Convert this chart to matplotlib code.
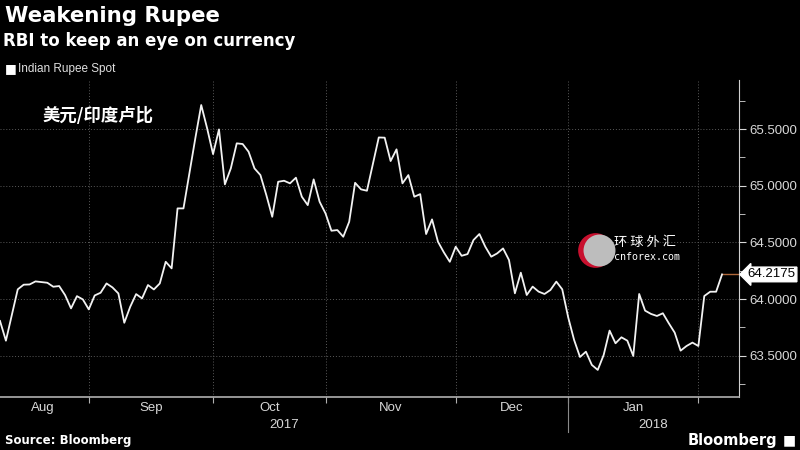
import matplotlib.pyplot as plt
from matplotlib.ticker import FixedLocator, MultipleLocator, FormatStrFormatter

# USD/INR spot, one value per trading day
rupee = [63.807, 63.633, 63.86, 64.086, 64.127, 64.129, 64.156, 64.150, 64.144, 64.109,
         64.115, 64.035, 63.918, 64.026, 63.997, 63.909, 64.032, 64.056, 64.138, 64.103,
         64.050, 63.791, 63.932, 64.044, 64.006, 64.124, 64.085, 64.138, 64.329, 64.271,
         64.800, 64.800, 65.109, 65.418, 65.712, 65.506, 65.279, 65.497, 65.012, 65.153,
         65.374, 65.368, 65.300, 65.153, 65.094, 64.918, 64.726, 65.035, 65.044, 65.021,
         65.071, 64.903, 64.829, 65.056, 64.859, 64.756, 64.603, 64.609, 64.550, 64.682,
         65.026, 64.968, 64.956, 65.191, 65.426, 65.424, 65.218, 65.321, 65.021, 65.094,
         64.903, 64.926, 64.574, 64.703, 64.506, 64.412, 64.329, 64.462, 64.382, 64.397,
         64.521, 64.574, 64.462, 64.374, 64.403, 64.447, 64.345, 64.051, 64.233, 64.036,
         64.110, 64.066, 64.045, 64.080, 64.154, 64.086, 63.84, 63.64, 63.489, 63.536,
         63.419, 63.375, 63.507, 63.722, 63.610, 63.663, 63.633, 63.498, 64.045, 63.898,
         63.869, 63.851, 63.875, 63.787, 63.704, 63.545, 63.586, 63.616, 63.586, 64.027,
         64.065, 64.065, 64.2175]
last_value = 64.2175

# month boundaries (trading day index) and label centres
month_starts = [15, 36, 55, 77, 96, 118]
month_names = ['Aug', 'Sep', 'Oct', 'Nov', 'Dec', 'Jan']
month_mid = [7.3, 25.5, 45.5, 66, 86.5, 107]
years = ['2017', '2018']
year_pos = [48, 110.3]
y_ticks = [63.5, 64.0, 64.5, 65.0, 65.5]

plt.rcParams['font.family'] = ['DejaVu Sans', 'Noto Sans CJK SC']
narrow = 'Liberation Sans'

fig = plt.figure(figsize=(8, 4.5), dpi=100, facecolor='black')
ax = fig.add_axes([0.0, 0.118, 0.924, 0.704], facecolor='black')

days = list(range(len(rupee)))
ax.plot(days, rupee, color='#f2f2f2', lw=1.3, zorder=3)
ax.plot([days[-1], 125], [last_value, last_value], color='#b0683a', lw=1.0,
        clip_on=False, zorder=2)

ax.set_xlim(0, 124.9)
ax.set_ylim(63.137, 65.932)

for s in ['top', 'left']:
    ax.spines[s].set_visible(False)
ax.spines['bottom'].set_color('#b0b0b0')
ax.spines['right'].set_color('#d0d0d0')
ax.spines['bottom'].set_linewidth(1.2)

ax.yaxis.tick_right()
ax.yaxis.set_major_locator(FixedLocator(y_ticks))
ax.yaxis.set_minor_locator(MultipleLocator(0.25))
ax.yaxis.set_major_formatter(FormatStrFormatter('%.4f'))
ax.tick_params(axis='y', which='major', colors='#d8d8d8', labelsize=9.5,
               length=5, pad=2)
ax.tick_params(axis='y', which='minor', colors='#d8d8d8', length=4)
for lab in ax.get_yticklabels():
    lab.set_family(narrow)

ax.xaxis.set_major_locator(FixedLocator(month_starts))
ax.xaxis.set_minor_locator(FixedLocator(month_mid))
ax.xaxis.set_major_formatter(plt.NullFormatter())
ax.xaxis.set_minor_formatter(plt.FixedFormatter(month_names))
ax.tick_params(axis='x', which='major', colors='#b0b0b0', length=4)
ax.tick_params(axis='x', which='minor', length=0, labelsize=9.5, labelcolor='#d8d8d8', pad=4)
for lab in ax.get_xticklabels(minor=True):
    lab.set_family(narrow)

ax.grid(True, which='major', color='#5a5a5a', lw=0.7, linestyle=(0, (1, 2)))

for name, pos in zip(years, year_pos):
    ax.text(pos, -0.07, name, transform=ax.get_xaxis_transform(), ha='center',
            va='top', color='#d8d8d8', fontsize=9.5, family=narrow)
ax.axvline(96, ymin=-0.11, ymax=0, color='#8a8a8a', lw=0.8, clip_on=False)

ax.annotate(f'{last_value:.4f}', xy=(1.0, last_value),
            xycoords=('axes fraction', 'data'), xytext=(6, 0),
            textcoords='offset points', ha='left', va='center', fontsize=9.5,
            color='black', family=narrow,
            bbox=dict(boxstyle='larrow,pad=0.1', fc='white', ec='white'))

# title block
fig.text(0.006, 0.965, 'Weakening Rupee', color='white', fontsize=15.3,
         fontweight='bold', va='center')
fig.text(0.004, 0.91, 'RBI to keep an eye on currency', color='white', fontsize=12,
         fontweight='bold', va='center')
fig.text(0.006, 0.847, '\u25a0', color='white', fontsize=9, va='center')
fig.text(0.022, 0.847, 'Indian Rupee Spot', color='#e0e0e0', fontsize=8.5,
         va='center', family=narrow)

ax.text(7.1, 65.615, '美元/印度卢比', color='white', fontsize=12.5, fontweight='bold',
        family=['Noto Sans CJK SC', 'DejaVu Sans'], va='center')

# watermark
ax.plot([0.805], [0.464], 'o', ms=25, color='#c8102e', mec='none',
        transform=ax.transAxes, clip_on=False, zorder=4)
ax.plot([0.81], [0.464], 'o', ms=23, color='#bdbdbd', mec='none',
        transform=ax.transAxes, clip_on=False, zorder=5)
fig.text(0.768, 0.462, '环 球 外 汇', color='white', fontsize=9.5,
         family=['Noto Sans CJK SC', 'DejaVu Sans'], va='center')
fig.text(0.768, 0.428, 'cnforex.com', color='white', fontsize=7.2, va='center',
         family='DejaVu Sans Mono')

fig.text(0.006, 0.022, 'Source: Bloomberg', color='white', fontsize=8.5,
         fontweight='bold', va='center')
fig.text(0.972, 0.022, 'Bloomberg', color='white', fontsize=10.5,
         fontweight='bold', va='center', ha='right')
fig.text(0.978, 0.022, '\u25a0', color='white', fontsize=10, va='center')

fig.savefig('out.png', dpi=100, facecolor='black')
